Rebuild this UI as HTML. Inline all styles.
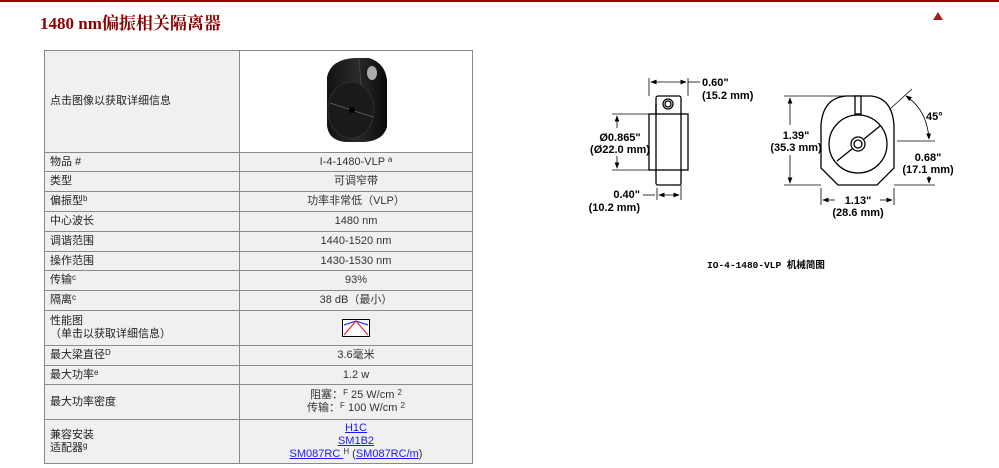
<!DOCTYPE html>
<html><head><meta charset="utf-8"><style>
body{margin:0;width:999px;height:468px;background:#fff;position:relative;overflow:hidden;font-family:"Liberation Sans","Noto Sans CJK SC",sans-serif;}
.topline{position:absolute;left:0;top:0;width:999px;height:2px;background:#a00000;}
h1{position:absolute;left:40px;top:9px;margin:0;font:bold 17px "Liberation Serif","Noto Serif CJK SC",serif;color:#8b0000;}
.tri{position:absolute;left:933px;top:12px;width:0;height:0;border-left:5px solid transparent;border-right:5px solid transparent;border-bottom:8px solid #a02020;}
table{position:absolute;left:44px;top:50px;width:429px;border-collapse:collapse;font-size:11px;color:#333;}
td{border:1.5px solid #8a8a8a;background:#f0f0f0;padding:0 5px;line-height:13px;}
td.l{width:184px;text-align:left;color:#222;}
td.r{text-align:center;}
sup{font-size:8px;vertical-align:top;line-height:8px;}
a{color:#1a1aff;text-decoration:underline;}
</style></head><body>
<div class="topline"></div>
<h1>1480 nm偏振相关隔离器</h1>
<div class="tri"></div>
<table>
<tr style="height:102px"><td class="l">点击图像以获取详细信息</td><td class="r" style="background:#fff">
<svg width="70" height="90" viewBox="0 0 70 90">
<defs><linearGradient id="g" x1="0" x2="1"><stop offset="0" stop-color="#111"/><stop offset="0.5" stop-color="#2a2a2a"/><stop offset="1" stop-color="#0a0a0a"/></linearGradient></defs>
<path d="M6 22 Q10 4 34 3 L48 3 Q64 8 66 25 L66 72 Q62 86 42 87 L24 87 Q7 85 6 70 Z" fill="url(#g)"/>
<ellipse cx="30" cy="55" rx="23" ry="28" fill="#1a1a1a" stroke="#2e2e2e"/>
<line x1="9" y1="48" x2="52" y2="62" stroke="#888" stroke-width="0.6"/>
<circle cx="31" cy="55" r="3" fill="#000"/>
<line x1="38" y1="4" x2="40" y2="30" stroke="#444"/>
<ellipse cx="51" cy="18" rx="5" ry="7" fill="#aaa"/>
</svg></td></tr>
<tr style="height:19px"><td class="l">物品 #</td><td class="r">I-4-1480-VLP <sup>a</sup></td></tr>
<tr style="height:20px"><td class="l">类型</td><td class="r">可调窄带</td></tr>
<tr style="height:20px"><td class="l">偏振型<sup>b</sup></td><td class="r">功率非常低（VLP）</td></tr>
<tr style="height:20px"><td class="l">中心波长</td><td class="r">1480 nm</td></tr>
<tr style="height:20px"><td class="l">调谐范围</td><td class="r">1440-1520 nm</td></tr>
<tr style="height:19px"><td class="l">操作范围</td><td class="r">1430-1530 nm</td></tr>
<tr style="height:20px"><td class="l">传输<sup>c</sup></td><td class="r">93%</td></tr>
<tr style="height:20px"><td class="l">隔离<sup>c</sup></td><td class="r">38 dB（最小）</td></tr>
<tr style="height:35px"><td class="l">性能图<br>（单击以获取详细信息）</td><td class="r">
<svg width="28" height="18" viewBox="0 0 28 18" style="vertical-align:middle"><rect x="0.5" y="0.5" width="27" height="17" fill="#fff" stroke="#000"/>
<path d="M2 6 L14 2 L26 6" fill="none" stroke="#33f" stroke-width="1.2"/><path d="M2 16 L14 2 L26 16" fill="none" stroke="#e22" stroke-width="1.2"/></svg></td></tr>
<tr style="height:20px"><td class="l">最大梁直径<sup>D</sup></td><td class="r">3.6毫米</td></tr>
<tr style="height:19px"><td class="l">最大功率<sup>e</sup></td><td class="r">1.2 w</td></tr>
<tr style="height:35px"><td class="l">最大功率密度</td><td class="r">阻塞：<sup>F</sup> 25 W/cm <sup>2</sup><br>传输：<sup>F</sup> 100 W/cm <sup>2</sup></td></tr>
<tr style="height:44px"><td class="l">兼容安装<br>适配器<sup>g</sup></td><td class="r"><a>H1C</a><br><a>SM1B2</a><br><a>SM087RC </a><sup>H</sup> (<a>SM087RC/m</a>)</td></tr>
</table>
<svg width="999" height="468" style="position:absolute;left:0;top:0" font-family="Liberation Sans" font-weight="bold" font-size="11">
<defs><marker id="a" markerWidth="8" markerHeight="6" refX="7" refY="3" orient="auto-start-reverse"><path d="M0 0 L8 3 L0 6 Z" fill="#000"/></marker></defs>
<g stroke="#000" fill="none" stroke-width="1.3">
<rect x="656" y="96" width="25" height="89" rx="2"/>
<rect x="649" y="114" width="39" height="56"/>
<circle cx="668" cy="104" r="5"/><circle cx="668" cy="104" r="3"/>
<line x1="656" y1="104" x2="656" y2="114"/>
</g>
<g stroke="#000" stroke-width="0.8" fill="none">
<line x1="649" y1="78" x2="649" y2="96"/><line x1="688" y1="78" x2="688" y2="96"/>
<line x1="651" y1="82" x2="686" y2="82" marker-start="url(#a)" marker-end="url(#a)"/>
<line x1="688" y1="82" x2="700" y2="82"/>
<line x1="612" y1="114" x2="649" y2="114"/><line x1="612" y1="170" x2="649" y2="170"/>
<line x1="617" y1="116" x2="617" y2="128" marker-start="url(#a)"/><line x1="617" y1="156" x2="617" y2="168" marker-end="url(#a)"/>
<line x1="657" y1="188" x2="657" y2="200"/><line x1="681" y1="185" x2="681" y2="200"/>
<line x1="643" y1="195" x2="655" y2="195"/>
<line x1="659" y1="195" x2="679" y2="195" marker-start="url(#a)" marker-end="url(#a)"/>
</g>
<g font-size="11" text-anchor="start">
<text x="702" y="86">0.60"</text><text x="702" y="99">(15.2 mm)</text>
<text x="620" y="141" text-anchor="middle">Ø0.865"</text><text x="620" y="153" text-anchor="middle">(Ø22.0 mm)</text>
<text x="640" y="198" text-anchor="end">0.40"</text><text x="640" y="211" text-anchor="end">(10.2 mm)</text>
</g>
<g stroke="#000" fill="none" stroke-width="1.3">
<path d="M821 125 Q823 98 846 96 L871 96 Q892 98 894 125 L894 168 L877 185 L838 185 L821 168 Z"/>
<rect x="855" y="96" width="6" height="18" fill="#fff"/>
<circle cx="858" cy="144" r="29"/>
<circle cx="858" cy="144" r="7"/><circle cx="858" cy="144" r="4"/>
<line x1="837" y1="161" x2="852" y2="149"/><line x1="864" y1="139" x2="880" y2="126"/>
</g>
<g stroke="#000" stroke-width="0.8" fill="none">
<line x1="784" y1="96" x2="855" y2="96"/><line x1="784" y1="185" x2="821" y2="185"/>
<line x1="790" y1="98" x2="790" y2="125" marker-start="url(#a)"/><line x1="790" y1="155" x2="790" y2="183" marker-end="url(#a)"/>
<line x1="897" y1="141" x2="935" y2="141"/><line x1="894" y1="185" x2="935" y2="185"/>
<line x1="929" y1="176" x2="929" y2="183" marker-end="url(#a)"/>
<line x1="890" y1="109" x2="912" y2="89"/>
<path d="M906 96 Q927 110 929 139" marker-start="url(#a)" marker-end="url(#a)"/>
<line x1="821" y1="188" x2="821" y2="205"/><line x1="894" y1="188" x2="894" y2="205"/>
<line x1="823" y1="200" x2="835" y2="200" marker-start="url(#a)"/><line x1="880" y1="200" x2="892" y2="200" marker-end="url(#a)"/>
</g>
<g font-size="11">
<text x="796" y="139" text-anchor="middle">1.39"</text><text x="796" y="151" text-anchor="middle">(35.3 mm)</text>
<text x="928" y="161" text-anchor="middle">0.68"</text><text x="928" y="173" text-anchor="middle">(17.1 mm)</text>
<text x="926" y="120">45°</text>
<text x="858" y="204" text-anchor="middle">1.13"</text><text x="858" y="216" text-anchor="middle">(28.6 mm)</text>
</g>
<text x="766" y="268" text-anchor="middle" font-family="Liberation Mono,Noto Sans CJK SC,monospace" font-size="9.5">IO-4-1480-VLP 机械简图</text>
</svg>
</body></html>
